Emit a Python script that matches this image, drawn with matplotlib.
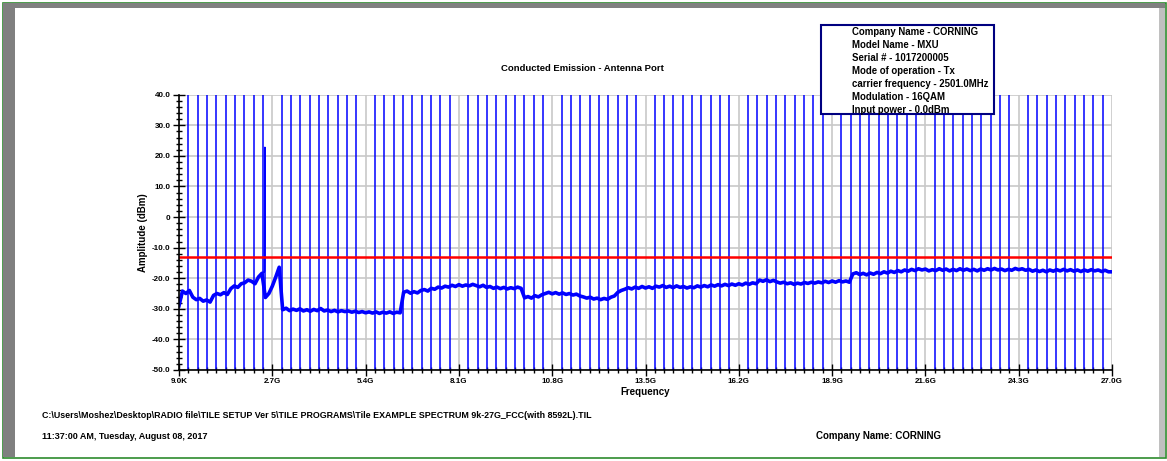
import numpy as np
import matplotlib
matplotlib.use("Agg")
import matplotlib.pyplot as plt
from matplotlib.patches import Rectangle

W, H = 1167, 461
plt.rcParams['font.family'] = ['Liberation Sans', 'DejaVu Sans']
plt.rcParams['font.weight'] = 'bold'

# measured level (dBm), one sample every 0.1 GHz starting at the given frequency
seg_a_start = 0.0
seg_a = [-29.0, -24.2, -25.0, -24.0, -26.2, -27.0, -26.6, -27.5, -27.1, -27.8,
         -25.6, -25.0, -25.4, -24.7, -25.3, -23.4, -22.5, -23.0, -21.8, -21.5,
         -20.6, -21.0, -21.8, -19.6, -18.4, -26.3, -25.0, -22.6, -19.6, -16.4]
seg_b_start = 3.0
seg_b = [-30.3, -29.8, -30.6, -30.1, -30.5, -30.0, -30.7, -30.3, -30.8, -30.2,
         -30.6, -29.9, -30.7, -30.4, -30.9, -30.5, -31.0, -30.6, -30.9, -30.7,
         -31.1, -30.8, -31.2, -30.9, -31.3, -31.0, -31.4, -31.0, -31.5, -31.1,
         -31.4, -31.0, -31.5, -31.1, -31.3]
seg_c_start = 6.5
seg_c = [-24.6, -24.2, -24.9, -24.4, -24.8, -24.0, -23.7, -24.2, -23.3, -23.6,
         -22.9, -23.2, -22.6, -22.9, -22.3, -22.7, -22.1, -22.6, -22.2, -22.5,
         -22.0, -22.4, -22.8, -22.3, -23.0, -22.7, -23.3, -22.9, -23.4, -23.0,
         -23.5, -23.1, -23.4, -22.9, -23.3]
seg_d_start = 10.0
seg_d = [-26.4, -26.0, -26.5, -25.7, -26.1, -25.4, -25.0, -24.6, -25.1, -24.7,
         -25.2, -24.8, -25.3, -25.0, -25.5, -25.2, -25.8, -26.1, -26.5, -26.2,
         -26.8, -26.5, -27.0, -26.6, -26.9, -26.2, -25.8, -24.6, -24.0, -23.6,
         -23.1, -23.5, -22.9, -23.3, -22.7, -23.2, -22.8, -23.3, -22.6, -22.9,
         -22.4, -23.0, -22.6, -23.1, -22.5, -23.0, -22.7, -23.2, -22.8, -23.1,
         -22.5, -22.9, -22.4, -22.8, -22.2, -22.6, -22.1, -22.5, -22.0, -22.4,
         -21.9, -22.3, -21.8, -22.2, -21.6, -22.0, -21.5, -21.8, -20.6, -21.0,
         -20.5, -21.1, -20.7, -21.2, -21.6, -21.3, -21.8, -21.5, -22.0, -21.6,
         -21.9, -21.4, -21.7, -21.3, -21.6, -21.2, -21.5, -21.0, -21.4, -20.9,
         -21.3, -20.8, -21.2, -20.9, -21.3]
seg_e_start = 19.5
seg_e = [-18.6, -18.2, -18.8, -18.4, -18.9, -18.3, -18.7, -18.1, -18.5, -17.9,
         -18.3, -17.7, -18.1, -17.5, -17.9, -17.3, -17.7, -17.1, -17.5, -16.9,
         -17.3, -17.0, -17.6, -17.2, -17.5, -16.9, -17.4, -17.0, -17.6, -17.1,
         -17.5, -16.9, -17.4, -17.0, -17.5, -17.1, -17.6, -17.0, -17.4, -16.9,
         -17.3, -16.8, -17.3, -17.0, -17.5, -17.1, -17.4, -16.8, -17.2, -16.9,
         -17.4, -17.1, -17.7, -17.3, -17.8, -17.4, -17.9, -17.3, -17.7, -17.2,
         -17.6, -17.1, -17.6, -17.2, -17.7, -17.3, -17.8, -17.3, -17.7, -17.2,
         -17.6, -17.3, -17.8, -17.4, -17.9, -17.9]

# carrier at 2501 MHz
carrier_freq = [2.40, 2.47, 2.485, 2.49, 2.50]
carrier_level = [-18.4, -17.8, 22.8, -25.0, -26.3]

limit_dbm = -13.0

x_ticks = [0.0, 2.7, 5.4, 8.1, 10.8, 13.5, 16.2, 18.9, 21.6, 24.3, 27.0]
x_tick_labels = ["9.0K", "2.7G", "5.4G", "8.1G", "10.8G", "13.5G",
                 "16.2G", "18.9G", "21.6G", "24.3G", "27.0G"]
y_ticks = [-50, -40, -30, -20, -10, 0, 10, 20, 30, 40]
y_tick_labels = ["-50.0", "-40.0", "-30.0", "-20.0", "-10.0", "0",
                 "10.0", "20.0", "30.0", "40.0"]

info_lines = ["Company Name - CORNING",
              "Model Name - MXU",
              "Serial # - 1017200005",
              "Mode of operation - Tx",
              "carrier frequency - 2501.0MHz",
              "Modulation - 16QAM",
              "Input power - 0.0dBm"]
file_path = r"C:\Users\Moshez\Desktop\RADIO file\TILE SETUP Ver 5\TILE PROGRAMS\Tile EXAMPLE SPECTRUM 9k-27G_FCC(with 8592L).TIL"
time_stamp = "11:37:00 AM, Tuesday, August 08, 2017"
company = "Company Name: CORNING"

# build the trace
freq = []
level = []
for start, vals in [(seg_a_start, seg_a), (seg_b_start, seg_b), (seg_c_start, seg_c),
                    (seg_d_start, seg_d), (seg_e_start, seg_e)]:
    freq.extend(start + 0.1 * np.arange(len(vals)))
    level.extend(vals)
freq = np.array(freq)
level = np.array(level)

minor_x = [round(0.27 * k, 2) for k in range(1, 100) if k % 10 != 0]


def fx(x):
    return x / W


def fy(y):
    return 1 - y / H


fig = plt.figure(figsize=(W / 100, H / 100), dpi=100)
fig.patch.set_facecolor("white")

# window frame
fig.patches.append(Rectangle((fx(3), fy(458)), fx(1163) - fx(0), fy(0) - fy(455),
                             transform=fig.transFigure, fill=False,
                             edgecolor="#2e8b2e", lw=1.2, zorder=0))
fig.patches.append(Rectangle((fx(3), fy(8)), fx(1162), fy(0) - fy(5),
                             transform=fig.transFigure, color="#808080", lw=0, zorder=0))
fig.patches.append(Rectangle((fx(3), fy(457)), fx(12), fy(0) - fy(454),
                             transform=fig.transFigure, color="#808080", lw=0, zorder=0))
fig.patches.append(Rectangle((fx(1159), fy(457)), fx(6), fy(0) - fy(449),
                             transform=fig.transFigure, color="#c0c0c0", lw=0, zorder=0))

ax = fig.add_axes([fx(179), fy(370), fx(1112) - fx(179), fy(94.7) - fy(370)])
ax.set_xlim(0, 27.0)
ax.set_ylim(-50, 40)

for v in x_ticks:
    ax.axvline(v, color="#c8c8c8", lw=1.2, zorder=1)
for v in y_ticks:
    ax.axhline(v, color="#c8c8c8", lw=1.2, zorder=1)
for v in minor_x:
    ax.axvline(v, color="#0000ff", lw=1.1, zorder=2)

ax.plot(freq, level, color="#0000ff", lw=2.6, zorder=3)
ax.plot(carrier_freq, carrier_level, color="#0000ff", lw=1.1, zorder=3)
ax.axhline(limit_dbm, color="#ff0000", lw=1.8, zorder=4)

ax.set_xticks(x_ticks)
ax.set_xticklabels(x_tick_labels)
ax.set_xticks(minor_x, minor=True)
ax.set_yticks(y_ticks)
ax.set_yticklabels(y_tick_labels)
ax.set_yticks(np.arange(-50, 41, 2), minor=True)
ax.tick_params(axis="both", which="major", direction="inout", length=9, width=1,
               labelsize=5.8, pad=1.5)
ax.tick_params(axis="both", which="minor", direction="inout", length=5, width=1)
for lab in ax.get_xticklabels() + ax.get_yticklabels():
    lab.set_fontweight("bold")
for s in ["top", "right"]:
    ax.spines[s].set_visible(False)
for s in ["left", "bottom"]:
    ax.spines[s].set_linewidth(1.2)
    ax.spines[s].set_zorder(5)

fig.text(fx(582), fy(68), "Conducted Emission - Antenna Port", ha="center", va="center",
         fontsize=6.8, fontweight="bold")
fig.text(fx(645), fy(392), "Frequency", ha="center", va="center",
         fontsize=7, fontweight="bold")
fig.text(fx(143.5), fy(232.5), "Amplitude (dBm)", ha="center", va="center", rotation=90,
         fontsize=7, fontweight="bold")

# header box
fig.patches.append(Rectangle((fx(821), fy(114)), fx(994) - fx(821), fy(25) - fy(114),
                             transform=fig.transFigure, facecolor="white",
                             edgecolor="#000080", lw=1.5, zorder=2))
for i, line in enumerate(info_lines):
    fig.text(fx(852), fy(32.3 + 12.9 * i), line, ha="left", va="center",
             fontsize=6.9, fontweight="bold", zorder=3)

fig.text(fx(42), fy(416), file_path, ha="left", va="center", fontsize=6.4, fontweight="bold")
fig.text(fx(42), fy(436), time_stamp, ha="left", va="center", fontsize=6.5, fontweight="bold")
fig.text(fx(816), fy(436), company, ha="left", va="center", fontsize=7, fontweight="bold")

fig.savefig("out.png", dpi=100)
